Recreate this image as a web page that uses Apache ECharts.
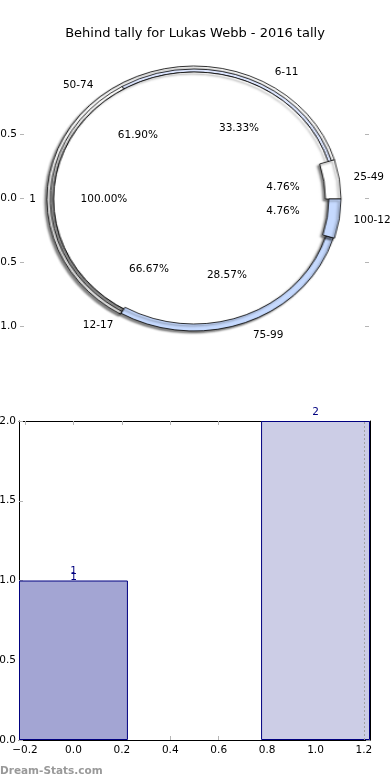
<!DOCTYPE html>
<html><head><meta charset="utf-8">
<script src="https://cdn.jsdelivr.net/npm/echarts@6/dist/echarts.min.js"></script>
<style>
html,body{margin:0;padding:0;background:#fff;}
#wrap{position:relative;width:390px;height:780px;overflow:hidden;background:#fff;}
#pie{position:absolute;left:0;top:0;width:390px;height:400px;transform-origin:194px 199px;transform:scaleX(1.105);}
#main{position:absolute;left:0;top:0;width:390px;height:780px;}
</style></head><body>
<div id="wrap"><div id="pie"></div><div id="main"></div></div>
<script>
// ---- data ----
const chartTitle = 'Behind tally for Lukas Webb - 2016 tally';
const innerNames = ['1'];
const innerValues = [1];
const ringANames = ['6-11', '12-17'];
const ringAValues = [1, 2];
const ringBNames = ['25-49', '50-74', '75-99', '100-124'];
const ringBValues = [1, 13, 6, 1];
const barX = [0, 1];
const barValues = [1, 2];
const barLabelRepeat = [2, 1];
const refLineX = 1.2;
const pieAxisMin = -1.0, pieAxisMax = 0.5, pieAxisStep = 0.5;
const barYMin = 0, barYMax = 2, barYStep = 0.5;
const barXMin = -0.225, barXMax = 1.225;
const barXTicks = [-0.2, 0.0, 0.2, 0.4, 0.6, 0.8, 1.0, 1.2];
const watermark = 'Dream-Stats.com';

// ---- style ----
const FONT = 'DejaVu Sans';
const CX = 194, CY = 199, K = 1.105;
const innerColors = ['#ffffff'];
const ringAColors = ['#dde6ff', '#ffffff'];
const ringBColors = ['#ffffff', '#ffffff', '#c6daff', '#c6daff'];
const ringBRadius = [[119, 133], [129, 133], [125, 132], [122, 133]];
const barColors = ['#a3a5d3', '#cccde6'];
const shadow = {shadowColor: 'rgba(0,0,0,0.5)', shadowBlur: 2, shadowOffsetX: -2, shadowOffsetY: 2};

function fmt(v) { return (v < 0 ? '\u2212' : '') + Math.abs(v).toFixed(1); }

function shapePie(names, values, colors, radius, only, withShadow) {
  return {
    type: 'pie', center: [CX, CY], radius: radius, startAngle: 0, clockwise: false,
    silent: true, animation: false, avoidLabelOverlap: false,
    label: {show: false}, labelLine: {show: false}, emphasis: {disabled: true},
    data: names.map((n, i) => ({
      name: n, value: values[i],
      itemStyle: (only == null || only === i)
        ? Object.assign({color: colors[i], borderColor: '#000', borderWidth: 0.8}, withShadow ? shadow : {})
        : {color: 'rgba(0,0,0,0)', borderWidth: 0}
    }))
  };
}

// draw order: 50-74 ring, ring A, inner disc, then remaining ring B slices
const pieSeries = [
  shapePie(ringBNames, ringBValues, ringBColors, ringBRadius[1], 1, true),
  shapePie(ringANames, ringAValues, ringAColors, [127, 130], null, false),
  shapePie(innerNames, innerValues, innerColors, [0, 127], null, true)
];
[0, 2, 3].forEach(i => pieSeries.push(shapePie(ringBNames, ringBValues, ringBColors, ringBRadius[i], i, true)));

const pieChart = echarts.init(document.getElementById('pie'), null, {renderer: 'canvas'});
pieChart.setOption({animation: false, series: pieSeries});

// ---- labels layer + axes + bars ----
function stretch(p) {
  const r = p.labelRect;
  const ax = p.align === 'left' ? r.x : (p.align === 'right' ? r.x + r.width : r.x + r.width / 2);
  return {x: CX + (ax - CX) * K};
}
function labelPie(names, values, radius, kind, outerGap) {
  const isName = kind === 'name';
  const total = values.reduce((a, b) => a + b, 0);
  return {
    type: 'pie', center: [CX, CY], radius: radius, startAngle: 0, clockwise: false,
    silent: true, animation: false, avoidLabelOverlap: false, z: 5,
    itemStyle: {color: 'rgba(0,0,0,0)', borderWidth: 0},
    emphasis: {disabled: true},
    label: {
      show: true, position: isName ? 'outside' : 'inside',
      formatter: p => isName ? p.name : (100 * p.value / total).toFixed(2) + '%',
      color: '#000', fontSize: 10.5, fontFamily: FONT,
      distanceToLabelLine: 0
    },
    labelLine: {show: false, length: outerGap || 0, length2: 0},
    labelLayout: stretch,
    data: names.map((n, i) => ({name: n, value: values[i]}))
  };
}

const main = echarts.init(document.getElementById('main'), null, {renderer: 'canvas'});
const tickGray = {show: true, inside: true, length: 4, lineStyle: {color: '#b5b5b5', width: 1}};
const barPx = 0.45 * 351 / (barXMax - barXMin);
const frameLine = {show: true, onZero: false, lineStyle: {color: '#000', width: 1}};

main.setOption({
  backgroundColor: 'transparent',
  animation: false,
  textStyle: {fontFamily: FONT},
  title: {text: chartTitle, left: 'center', top: 22,
    textStyle: {fontSize: 13, fontWeight: 'normal', color: '#000', fontFamily: FONT}},
  grid: [
    {left: 20, right: 21, top: 134, height: 192, containLabel: false, outerBoundsMode: 'none'},
    {left: 19, width: 351, top: 421, height: 319, containLabel: false, outerBoundsMode: 'none'}
  ],
  xAxis: [
    {gridIndex: 0, type: 'value', show: false, min: -1, max: 1},
    {gridIndex: 1, type: 'value', min: barXMin, max: barXMax, position: 'bottom',
      splitLine: {show: false}, axisLine: frameLine,
      axisTick: Object.assign({customValues: barXTicks}, tickGray),
      axisLabel: {customValues: barXTicks, formatter: fmt, color: '#000', fontSize: 10.5, margin: 5, fontFamily: FONT}},
    {gridIndex: 1, type: 'value', min: barXMin, max: barXMax, position: 'top',
      splitLine: {show: false}, axisLine: frameLine,
      axisTick: Object.assign({customValues: barXTicks}, tickGray),
      axisLabel: {show: false}}
  ],
  yAxis: [
    {gridIndex: 0, type: 'value', min: pieAxisMin, max: pieAxisMax, interval: pieAxisStep, position: 'left',
      splitLine: {show: false}, axisLine: {show: false, onZero: false}, axisTick: tickGray,
      axisLabel: {formatter: fmt, color: '#000', fontSize: 10.5, margin: 3, fontFamily: FONT}},
    {gridIndex: 0, type: 'value', min: pieAxisMin, max: pieAxisMax, interval: pieAxisStep, position: 'right',
      splitLine: {show: false}, axisLine: {show: false, onZero: false}, axisTick: tickGray, axisLabel: {show: false}},
    {gridIndex: 1, type: 'value', min: barYMin, max: barYMax, interval: barYStep, position: 'left',
      splitLine: {show: false}, axisLine: frameLine, axisTick: tickGray,
      axisLabel: {formatter: fmt, color: '#000', fontSize: 10.5, margin: 3, fontFamily: FONT}},
    {gridIndex: 1, type: 'value', min: barYMin, max: barYMax, interval: barYStep, position: 'right',
      splitLine: {show: false}, axisLine: frameLine,
      axisTick: {show: true, inside: true, length: 4, lineStyle: {color: '#999'}}, axisLabel: {show: false}}
  ],
  series: [
    labelPie(innerNames, innerValues, [0, 128], 'name', 15),
    labelPie(innerNames, innerValues, [0, 157], 'pct'),
    labelPie(ringANames, ringAValues, [0, 133], 'name', 13),
    labelPie(ringANames, ringAValues, [0, 157], 'pct'),
    labelPie(ringBNames, ringBValues, [0, 133], 'name', 13),
    labelPie(ringBNames, ringBValues, [0, 157], 'pct'),
    {
      type: 'bar', xAxisIndex: 1, yAxisIndex: 2, barWidth: barPx, silent: true, z: 3,
      data: barX.map((x, i) => ({
        value: [x, barValues[i]],
        itemStyle: {color: barColors[i], borderColor: '#000080', borderWidth: 1},
        label: {distance: barLabelRepeat[i] > 1 ? 0 : 6}
      })),
      label: {show: true, position: 'top', color: '#000080', fontSize: 10.5, lineHeight: 6, fontFamily: FONT,
        formatter: p => Array(barLabelRepeat[p.dataIndex]).fill(String(p.value[1])).join('\n')},
      markLine: {silent: true, symbol: 'none', animation: false, z: 4,
        lineStyle: {type: [2, 2], color: '#a0a0a0', width: 1},
        label: {show: false}, emphasis: {disabled: true},
        data: [{xAxis: refLineX}]}
    }
  ],
  graphic: [{type: 'text', left: 0, top: 766,
    style: {text: watermark, fill: '#999', font: 'bold 10.5px "DejaVu Sans"'}}]
});
</script>
</body></html>
